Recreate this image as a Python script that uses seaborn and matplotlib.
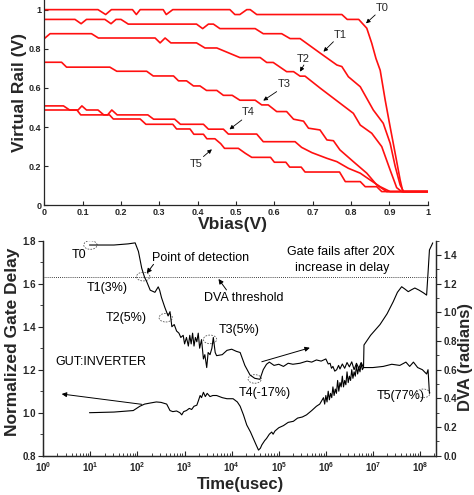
import matplotlib
matplotlib.use("Agg")
import numpy as np
import pandas as pd
import matplotlib.pyplot as plt
import seaborn as sns
from matplotlib.patches import Ellipse
from matplotlib.ticker import MultipleLocator

# ---- top panel: virtual rail vs Vbias, one curve per stress time ----
curve_names = ["T0", "T1", "T2", "T3", "T4", "T5"]

t0_vbias = [0, .14, .16, .175, .23, .24, .25, .31, .318, .335, .484, .497, .51, .528, .537, .554,
            .776, .79, .82, .841, .854, .865, .876, .889, .902, .915, .928, .935, 1.0]
t0_rail = [1.0, 1.0, .975, 1.0, 1.0, .975, 1.0, 1.0, .975, 1.0, 1.0, .975, .975, 1.0, 1.0, .975,
           .975, .95, .95, .905, .828, .75, .69, .538, .40, .266, .13, .07, .07]

t1_vbias = [0, .08, .096, .11, .158, .174, .187, .2, .219, .397, .413, .428, .441, .458, .55, .571,
            .619, .641, .667, .684, .72, .763, .776, .793, .824, .858, .884, .902, .915, .928, .937, 1.0]
t1_rail = [.95, .95, .928, .95, .95, .928, .95, .95, .926, .926, .903, .926, .926, .903, .903, .877,
           .877, .852, .852, .828, .777, .717, .709, .657, .606, .487, .419, .317, .2, .104, .07, .07]

t2_vbias = [0, .015, .123, .141, .289, .302, .315, .33, .397, .419, .45, .51, .563, .58, .597, .632,
            .65, .667, .68, .72, .806, .824, .854, .88, .902, .919, .932, 1.0]
t2_rail = [.852, .877, .877, .855, .855, .83, .855, .83, .83, .804, .804, .755, .755, .73, .73, .683,
           .683, .66, .66, .598, .47, .41, .368, .30, .18, .09, .07, .07]

t3_vbias = [0, .045, .058, .171, .189, .267, .284, .337, .35, .371, .389, .406, .423, .45, .467, .49,
            .51, .55, .567, .584, .606, .632, .65, .676, .689, .719, .737, .754, .771, .806, .841,
            .867, .893, 1.0]
t3_rail = [.731, .731, .706, .706, .685, .685, .661, .661, .636, .636, .61, .61, .587, .587, .562, .562,
           .537, .537, .513, .513, .479, .479, .44, .43, .394, .385, .334, .33, .283, .223, .164,
           .104, .07, .07]

t4_vbias = [0, .05, .066, .088, .098, .11, .14, .155, .165, .176, .19, .27, .285, .34, .355, .415,
            .428, .467, .48, .554, .571, .654, .671, .698, .737, .763, .793, .824, .85, .876, .902, 1.0]
t4_rail = [.508, .508, .487, .487, .508, .487, .487, .462, .462, .487, .462, .462, .44, .44, .414, .414,
           .389, .389, .364, .364, .325, .325, .296, .269, .24, .223, .189, .164, .129, .095, .07, .07]

t5_vbias = [0, .085, .095, .17, .18, .25, .265, .335, .345, .38, .39, .415, .424, .445, .46, .47,
            .506, .524, .541, .59, .6, .63, .64, .67, .68, .77, .785, .824, .837, .867, .88, 1.0]
t5_rail = [.487, .487, .462, .462, .441, .441, .414, .414, .39, .39, .363, .363, .34, .34, .315, .291,
           .291, .266, .245, .245, .22, .22, .195, .195, .17, .17, .121, .121, .095, .095, .07, .07]

# ---- bottom panel: normalized gate delay (left) and DVA (right) vs time ----
delay_logt = [0.98, 1.5, 1.91, 2.05, 2.15, 2.27, 2.4, 2.5, 2.62, 2.69, 2.75, 2.83, 2.9, 2.94, 2.98,
              3.04, 3.1, 3.15, 3.2, 3.26, 3.3, 3.33, 3.36, 3.40, 3.44, 3.48, 3.54, 3.6, 3.68, 3.8,
              3.9, 4.03, 4.12, 4.18, 4.25, 4.32, 4.4, 4.46, 4.52, 4.57, 4.61, 4.64, 4.7, 4.74, 4.8,
              4.85, 4.88, 4.92, 5.0, 5.1, 5.2, 5.31, 5.4, 5.5, 5.59, 5.7, 5.8, 5.87,
              5.95, 5.975, 6.0, 6.025, 6.05, 6.075, 6.1, 6.125, 6.15, 6.175, 6.2, 6.225, 6.25,
              6.275, 6.3, 6.325, 6.35, 6.375, 6.4, 6.425, 6.45, 6.475, 6.5, 6.525, 6.55, 6.575,
              6.6, 6.625, 6.65, 6.675, 6.7, 6.725, 6.75, 6.775, 6.8,
              6.81, 6.95, 7.15, 7.3, 7.43, 7.52, 7.61, 7.68, 7.75, 7.82, 7.89, 7.98, 8.07,
              8.14, 8.17, 8.2, 8.25, 8.27]
delay_norm = [1.0, 1.003, 1.01, 1.03, 1.04, 1.045, 1.05, 1.048, 1.04, 1.01, 1.005, 1.008, 1.0, 0.99,
              1.005, 1.01, 1.02, 1.015, 1.03, 1.035, 1.06, 1.08, 1.07, 1.095, 1.075, 1.09, 1.075,
              1.08, 1.08, 1.07, 1.065, 1.065, 1.05, 1.03, 0.99, 0.943, 0.91, 0.88, 0.85, 0.826,
              0.835, 0.85, 0.87, 0.88, 0.9, 0.91, 0.9, 0.915, 0.93, 0.94, 0.955, 0.96, 0.975, 0.98,
              0.99, 1.01, 1.03, 1.04,
              1.07, 1.04, 1.08, 1.05, 1.10, 1.06, 1.09, 1.07, 1.12, 1.08, 1.11, 1.09, 1.15,
              1.10, 1.14, 1.12, 1.17, 1.12, 1.15, 1.13, 1.19, 1.14, 1.17, 1.15, 1.20, 1.16,
              1.19, 1.17, 1.22, 1.18, 1.21, 1.19, 1.23, 1.20, 1.21,
              1.315, 1.36, 1.41, 1.46, 1.516, 1.56, 1.586, 1.575, 1.563, 1.572, 1.58, 1.57, 1.558,
              1.547, 1.65, 1.757, 1.78, 1.79]

dva_logt = [0.98, 1.5, 1.8, 1.95, 2.02, 2.09, 2.15, 2.195, 2.27, 2.37, 2.44, 2.47, 2.51, 2.58, 2.65,
            2.69, 2.73, 2.78, 2.83, 2.88, 2.92, 2.97, 3.0, 3.04, 3.08, 3.11, 3.14, 3.17, 3.2, 3.23,
            3.26, 3.29, 3.32, 3.36, 3.40, 3.43, 3.47, 3.5, 3.54, 3.58, 3.61, 3.65, 3.68, 3.8, 3.9,
            4.0, 4.1, 4.18, 4.28, 4.39, 4.49, 4.6, 4.67, 4.74, 4.8, 4.9, 5.0, 5.1, 5.2, 5.3, 5.45,
            5.6, 5.7, 5.8, 5.9,
            6.0, 6.05, 6.09, 6.12, 6.15, 6.19, 6.23, 6.27, 6.3, 6.35, 6.4, 6.45, 6.5, 6.55, 6.6,
            6.65, 6.7, 6.75, 6.8,
            7.0, 7.22, 7.4, 7.57, 7.7, 7.78, 7.86, 7.95, 8.05, 8.14, 8.17, 8.2]
dva_rad = [1.47, 1.47, 1.478, 1.485, 1.425, 1.308, 1.245, 1.215, 1.155, 1.14, 1.178, 1.155, 1.103,
           1.035, 0.975, 1.005, 0.90, 0.915, 0.87, 0.855, 0.825, 0.84, 0.78, 0.825, 0.765, 0.84,
           0.78, 0.855, 0.765, 0.825, 0.795, 0.855, 0.75, 0.81, 0.675, 0.705, 0.615, 0.72, 0.705,
           0.75, 0.825, 0.72, 0.698, 0.705, 0.735, 0.743, 0.728, 0.72, 0.63, 0.563, 0.54, 0.533,
           0.60, 0.638, 0.653, 0.63, 0.638, 0.623, 0.645, 0.638, 0.645, 0.66, 0.653, 0.668, 0.66,
           0.675, 0.64, 0.645, 0.61, 0.623, 0.59, 0.60, 0.63, 0.605, 0.64, 0.61, 0.65, 0.62,
           0.655, 0.60, 0.645, 0.61, 0.65, 0.615,
           0.615, 0.623, 0.638, 0.63, 0.653, 0.623, 0.653, 0.615, 0.60, 0.57, 0.60, 0.435]

dva_threshold = 1.245

# circled points T0..T5 (log10 time, normalized delay scale)
mark_logt = [1.0, 2.12, 2.6, 3.54, 4.49, 8.07]
mark_delay = [1.78, 1.633, 1.442, 1.341, 1.157, 1.09]

sns.set_style("ticks")
plt.rcParams['font.family'] = ['Liberation Sans', 'DejaVu Sans']
plt.rcParams['mathtext.fontset'] = 'custom'
plt.rcParams['mathtext.bf'] = 'Liberation Sans:bold'
plt.rcParams['mathtext.rm'] = 'Liberation Sans'

fig = plt.figure(figsize=(4.74, 4.95), dpi=100)

# ---------------- top ----------------
ax = fig.add_axes([0.0935, 0.5853, 0.8089, 0.415])
all_x = [t0_vbias, t1_vbias, t2_vbias, t3_vbias, t4_vbias, t5_vbias]
all_y = [t0_rail, t1_rail, t2_rail, t3_rail, t4_rail, t5_rail]
frames = []
for name, xs, ys in zip(curve_names, all_x, all_y):
    frames.append(pd.DataFrame({'vbias': xs, 'rail': ys, 'curve': name}))
top_df = pd.concat(frames, ignore_index=True)
sns.lineplot(data=top_df, x='vbias', y='rail', hue='curve', units='curve',
             palette={n: '#ff1010' for n in curve_names}, sort=False, estimator=None,
             legend=False, lw=1.2, ax=ax)
ax.set_xlim(0, 1)
ax.set_ylim(0, 1.05)
xt = np.round(np.arange(0, 1.01, 0.1), 1)
ax.set_xticks(xt, labels=['%g' % v for v in xt], fontweight='bold', fontsize=6.5)
yt = np.round(np.arange(0, 1.01, 0.2), 1)
ax.set_yticks(yt, labels=['%g' % v for v in yt], fontweight='bold', fontsize=6.5)
ax.tick_params(direction='in', length=3, width=0.8, pad=2)
for s in ['top', 'right']:
    ax.spines[s].set_visible(False)
for s in ['left', 'bottom']:
    ax.spines[s].set_linewidth(0.9)
ax.set_xlabel('Vbias(V)', fontsize=12.5, fontweight='bold')
ax.set_ylabel('Virtual Rail (V)', fontsize=12.5, fontweight='bold')
ax.xaxis.set_label_coords(0.492, -0.055)
ax.yaxis.set_label_coords(-0.045, 0.55)

arrow_kw = dict(arrowstyle='-|>', color='black', lw=0.6, mutation_scale=6, shrinkA=0, shrinkB=0)
top_notes = [("T0", (0.88, 1.007), (0.863, 0.973), (0.839, 0.93)),
             ("T1", (0.771, 0.87), (0.754, 0.836), (0.728, 0.785)),
             ("T2", (0.676, 0.746), (0.677, 0.717), (0.667, 0.683)),
             ("T3", (0.625, 0.618), (0.606, 0.581), (0.571, 0.535)),
             ("T4", (0.532, 0.475), (0.515, 0.436), (0.483, 0.388)),
             ("T5", (0.397, 0.21), (0.415, 0.249), (0.437, 0.286))]
for lab, tpos, tail, tip in top_notes:
    ax.text(*tpos, lab, fontsize=8, ha='center', va='center')
    ax.annotate('', xy=tip, xytext=tail, arrowprops=arrow_kw)

# ---------------- bottom ----------------
axb = fig.add_axes([0.0914, 0.0794, 0.8285, 0.4343])
axb.set_xscale('log')
axr = axb.twinx()
delay_t = [10 ** v for v in delay_logt]
dva_t = [10 ** v for v in dva_logt]
sns.lineplot(x=delay_t, y=delay_norm, sort=False, estimator=None, color='black', lw=0.8, ax=axb)
sns.lineplot(x=dva_t, y=dva_rad, sort=False, estimator=None, color='black', lw=0.8, ax=axr)
axr.axhline(dva_threshold, color='black', ls=(0, (1, 1.5)), lw=0.6)

axb.set_xlim(1, 10 ** 8.34)
axb.set_ylim(0.8, 1.8)
axr.set_ylim(0, 1.5)
axb.set_xticks([10 ** k for k in range(9)],
               labels=[r'$\mathbf{10^{%d}}$' % k for k in range(9)], fontsize=7)
lt = np.round(np.arange(0.8, 1.81, 0.2), 1)
axb.set_yticks(lt, labels=['%.1f' % v for v in lt], fontweight='bold', fontsize=7)
rt = np.round(np.arange(0, 1.41, 0.2), 1)
axr.set_yticks(rt, labels=['%.1f' % v for v in rt], fontweight='bold', fontsize=7)
axb.yaxis.set_minor_locator(MultipleLocator(0.1))
axr.yaxis.set_minor_locator(MultipleLocator(0.1))
axb.tick_params(axis='x', which='major', direction='in', length=3.5, width=0.8, pad=3)
axb.tick_params(axis='x', which='minor', direction='in', length=2, width=0.6)
axb.tick_params(axis='y', which='major', direction='out', length=3.5, width=0.8, pad=2)
axb.tick_params(axis='y', which='minor', direction='out', length=2, width=0.6)
axr.tick_params(axis='y', which='major', direction='out', length=3.5, width=0.8, pad=2)
axr.tick_params(axis='y', which='minor', direction='out', length=2, width=0.6)
for a in (axb, axr):
    a.spines['top'].set_visible(False)
    for s in ['left', 'bottom', 'right']:
        a.spines[s].set_linewidth(0.9)

axb.set_xlabel('Time(usec)', fontsize=12, fontweight='bold')
axb.set_ylabel('Normalized Gate Delay', fontsize=12.5, fontweight='bold')
axr.set_ylabel('DVA (radians)', fontsize=12, fontweight='bold')
axb.xaxis.set_label_coords(0.501, -0.1)
axb.yaxis.set_label_coords(-0.06, 0.53)
axr.yaxis.set_label_coords(1.056, 0.46)

# circled points
to_axes = axb.transData + axb.transAxes.inverted()
for lt_, dv in zip(mark_logt, mark_delay):
    cx, cy = to_axes.transform((10 ** lt_, dv))
    axb.add_patch(Ellipse((cx, cy), 0.034, 0.04, transform=axb.transAxes, fill=False,
                          ls=(0, (2, 1.5)), lw=0.6, ec='0.35', zorder=5))

note_kw = dict(fontsize=9, color='black')
axb.text(10 ** 0.6, 1.733, 'T0', va='center', **note_kw)
axb.text(10 ** 2.3, 1.718, 'Point of detection', va='center', **note_kw)
axb.text(10 ** 0.93, 1.58, 'T1(3%)', va='center', **note_kw)
axb.text(10 ** 1.33, 1.44, 'T2(5%)', va='center', **note_kw)
axb.text(10 ** 3.72, 1.385, 'T3(5%)', va='center', **note_kw)
axb.text(10 ** 0.25, 1.234, 'GUT:INVERTER', va='center', **note_kw)
axb.text(10 ** 4.14, 1.09, 'T4(-17%)', va='center', **note_kw)
axb.text(10 ** 7.08, 1.08, 'T5(77%)', va='center', **note_kw)
axb.text(10 ** 3.41, 1.532, 'DVA threshold', va='center', **note_kw)
axb.text(10 ** 6.32, 1.749, 'Gate fails after 20X', ha='center', va='center', **note_kw)
axb.text(10 ** 6.34, 1.674, 'increase in delay', ha='center', va='center', **note_kw)

barrow = dict(arrowstyle='-|>', color='black', lw=0.7, mutation_scale=7, shrinkA=0, shrinkB=0)
axb.annotate('', xy=(10 ** 2.195, 1.648), xytext=(10 ** 2.34, 1.69), arrowprops=barrow)
axb.annotate('', xy=(10 ** 3.72, 1.622), xytext=(10 ** 3.89, 1.571), arrowprops=barrow)
axb.annotate('', xy=(10 ** 5.66, 1.302), xytext=(10 ** 4.64, 1.237), arrowprops=barrow)
axb.annotate('', xy=(10 ** 0.39, 1.087), xytext=(10 ** 2.09, 1.039), arrowprops=barrow)

fig.savefig('out.png', dpi=100)
